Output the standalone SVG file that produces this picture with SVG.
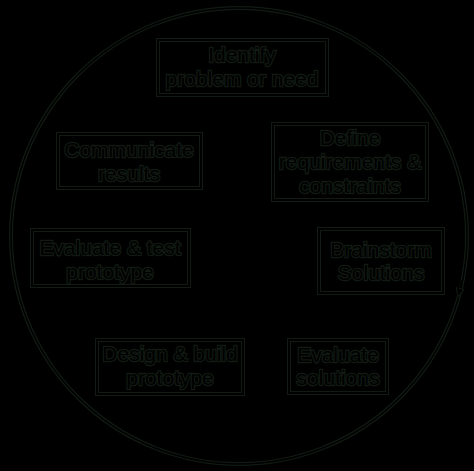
<svg xmlns="http://www.w3.org/2000/svg" width="474" height="471" viewBox="0 0 474 471">
<defs>
<style>
.bg{fill:#000}
.halo{fill:none;stroke:#111a13;stroke-width:4}
.box{fill:none;stroke:#000;stroke-width:2}
.ring{fill:none;stroke:#000;stroke-width:1.5}
text{font-family:"Liberation Sans",Arial,sans-serif;font-size:21px;text-anchor:middle;fill:#000;stroke:#111a13;stroke-width:2.5;paint-order:stroke}
</style>
<marker id="arr" markerWidth="10" markerHeight="10" refX="8" refY="5" orient="auto" markerUnits="userSpaceOnUse">
<path d="M0,1 L9,5 L0,9 z" fill="#000" stroke="#111a13" stroke-width="1"/>
</marker>
</defs>
<rect class="bg" x="0" y="0" width="474" height="471"/>
<g id="connectors">
<circle class="halo" cx="239" cy="236" r="228"/>
<circle class="ring" cx="239" cy="236" r="228"/>
<path class="ring" d="M462,280 A228,228 0 0 1 458,296" marker-end="url(#arr)"/>
</g>
<g id="n1"><rect class="halo" x="158" y="40" width="169" height="55"/><rect class="box" x="158" y="40" width="169" height="55"/><text x="242" y="62">Identify</text><text x="242" y="86">problem or need</text></g>
<g id="n2"><rect class="halo" x="273" y="124" width="154" height="76"/><rect class="box" x="273" y="124" width="154" height="76"/><text x="350" y="145">Define</text><text x="350" y="169">requirements &amp;</text><text x="350" y="193">constraints</text></g>
<g id="n3"><rect class="halo" x="58" y="134" width="143" height="54"/><rect class="box" x="58" y="134" width="143" height="54"/><text x="129" y="157">Communicate</text><text x="129" y="181">results</text></g>
<g id="n4"><rect class="halo" x="32" y="230" width="157" height="56"/><rect class="box" x="32" y="230" width="157" height="56"/><text x="110" y="255">Evaluate &amp; test</text><text x="110" y="279">prototype</text></g>
<g id="n5"><rect class="halo" x="319" y="229" width="124" height="64"/><rect class="box" x="319" y="229" width="124" height="64"/><text x="381" y="257">Brainstorm</text><text x="381" y="280">Solutions</text></g>
<g id="n6"><rect class="halo" x="97" y="340" width="146" height="54"/><rect class="box" x="97" y="340" width="146" height="54"/><text x="170" y="361">Design &amp; build</text><text x="170" y="385">prototype</text></g>
<g id="n7"><rect class="halo" x="289" y="340" width="98" height="53"/><rect class="box" x="289" y="340" width="98" height="53"/><text x="338" y="362">Evaluate</text><text x="338" y="385">solutions</text></g>
</svg>
